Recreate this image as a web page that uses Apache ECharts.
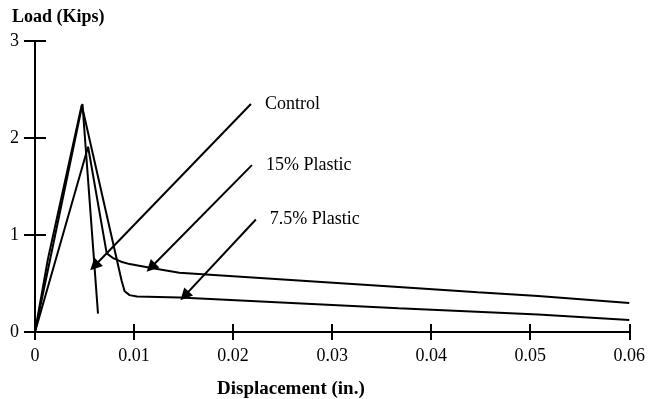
<!DOCTYPE html>
<html>
<head>
<meta charset="utf-8">
<script src="https://cdn.jsdelivr.net/npm/echarts@6/dist/echarts.min.js"></script>
<style>
  html, body { margin: 0; padding: 0; background: #fff; }
  #chart { width: 648px; height: 399px; }
</style>
</head>
<body>
<div id="chart"></div>
<script>
// tick labels
const xTickLabels = ['0', '0.01', '0.02', '0.03', '0.04', '0.05', '0.06']
const yTickLabels = ['0', '1', '2', '3']

// load-displacement curves [displacement (in.), load (kips)]
const controlData = [[0, 0], [0.00479, 2.35], [0.00636, 0.19]]
const plastic15Data = [
  [0, 0], [0.00536, 1.91], [0.00724, 0.81], [0.00784, 0.765], [0.00870, 0.725],
  [0.00955, 0.70], [0.01176, 0.66], [0.01457, 0.61], [0.0367, 0.465],
  [0.0447, 0.41], [0.0508, 0.37], [0.06, 0.30]
]
const plastic75Data = [
  [0, 0], [0.0013, 0.75], [0.00472, 2.34], [0.00874, 0.53], [0.00905, 0.42],
  [0.00955, 0.38], [0.0103, 0.365], [0.0146, 0.355], [0.0367, 0.245],
  [0.0508, 0.18], [0.06, 0.124]
]

// annotations
const annotationLabels = ['Control', '15% Plastic', '7.5% Plastic']
const arrowStarts = [[0.0218, 2.35], [0.0219, 1.72], [0.0223, 1.16]]
const arrowTips = [[0.0060, 0.68], [0.0117, 0.665], [0.0151, 0.372]]

const serif = 'Liberation Serif, Times New Roman, serif'
const ink = '#000'

const chart = echarts.init(document.getElementById('chart'))

const baseX = {
  type: 'value', min: 0, max: 0.06, interval: 0.01,
  splitLine: { show: false }
}
const baseY = {
  type: 'value', min: 0, max: 3, interval: 1,
  splitLine: { show: false }
}

const lineStyle = { color: ink, width: 2 }

const option = {
  animation: false,
  backgroundColor: '#fff',
  title: [
    {
      text: 'Load (Kips)', left: 12, top: 8, padding: 0,
      textStyle: { fontFamily: serif, fontSize: 18, fontWeight: 'bold', color: ink }
    },
    {
      text: 'Displacement (in.)', left: 217, top: 380, padding: 0,
      textStyle: { fontFamily: serif, fontSize: 19, fontWeight: 'bold', color: ink }
    }
  ],
  grid: { left: 35, right: 16, top: 41, bottom: 67, containLabel: false },
  xAxis: [
    Object.assign({}, baseX, {
      axisLine: { lineStyle: { color: ink, width: 2 } },
      axisTick: { length: 8, lineStyle: { color: ink, width: 2 } },
      axisLabel: {
        margin: 15, fontFamily: serif, fontSize: 18, color: ink,
        formatter: (v) => xTickLabels[Math.round(v / 0.01)]
      }
    }),
    Object.assign({}, baseX, {
      position: 'bottom',
      axisLine: { show: false },
      axisTick: { inside: true, length: 8, lineStyle: { color: ink, width: 2 } },
      axisLabel: { show: false }
    })
  ],
  yAxis: [
    Object.assign({}, baseY, {
      axisLine: { show: true, lineStyle: { color: ink, width: 2 } },
      axisTick: { show: true, length: 11, lineStyle: { color: ink, width: 2 } },
      axisLabel: {
        margin: 16, fontFamily: serif, fontSize: 18, color: ink,
        formatter: (v) => yTickLabels[Math.round(v)]
      }
    }),
    Object.assign({}, baseY, {
      position: 'left',
      axisLine: { show: false },
      axisTick: { show: true, inside: true, length: 11, lineStyle: { color: ink, width: 2 } },
      axisLabel: { show: false }
    })
  ],
  series: [
    {
      name: 'Control', type: 'line', data: controlData,
      showSymbol: false, lineStyle: lineStyle, silent: true
    },
    {
      name: '15% Plastic', type: 'line', data: plastic15Data,
      showSymbol: false, lineStyle: lineStyle, silent: true
    },
    {
      name: '7.5% Plastic', type: 'line', data: plastic75Data,
      showSymbol: false, lineStyle: lineStyle, silent: true
    },
    {
      // text of the annotations, anchored at the tail of each arrow
      name: 'labels', type: 'scatter', symbolSize: 0, silent: true,
      itemStyle: { opacity: 1, color: ink },
      data: arrowStarts,
      label: {
        show: true, position: 'right', distance: 14,
        fontFamily: serif, fontSize: 18, color: ink,
        formatter: (p) => annotationLabels[p.dataIndex]
      }
    },
    {
      name: 'arrows', type: 'line', data: [], silent: true,
      markLine: {
        silent: true,
        animation: false,
        symbol: ['none', 'triangle'],
        symbolSize: 12,
        label: { show: false },
        itemStyle: { color: ink },
        lineStyle: { color: ink, width: 2, type: 'solid' },
        data: arrowStarts.map((s, i) => [
          { coord: s },
          { coord: arrowTips[i] }
        ])
      }
    }
  ]
}

chart.setOption(option)
</script>
</body>
</html>
